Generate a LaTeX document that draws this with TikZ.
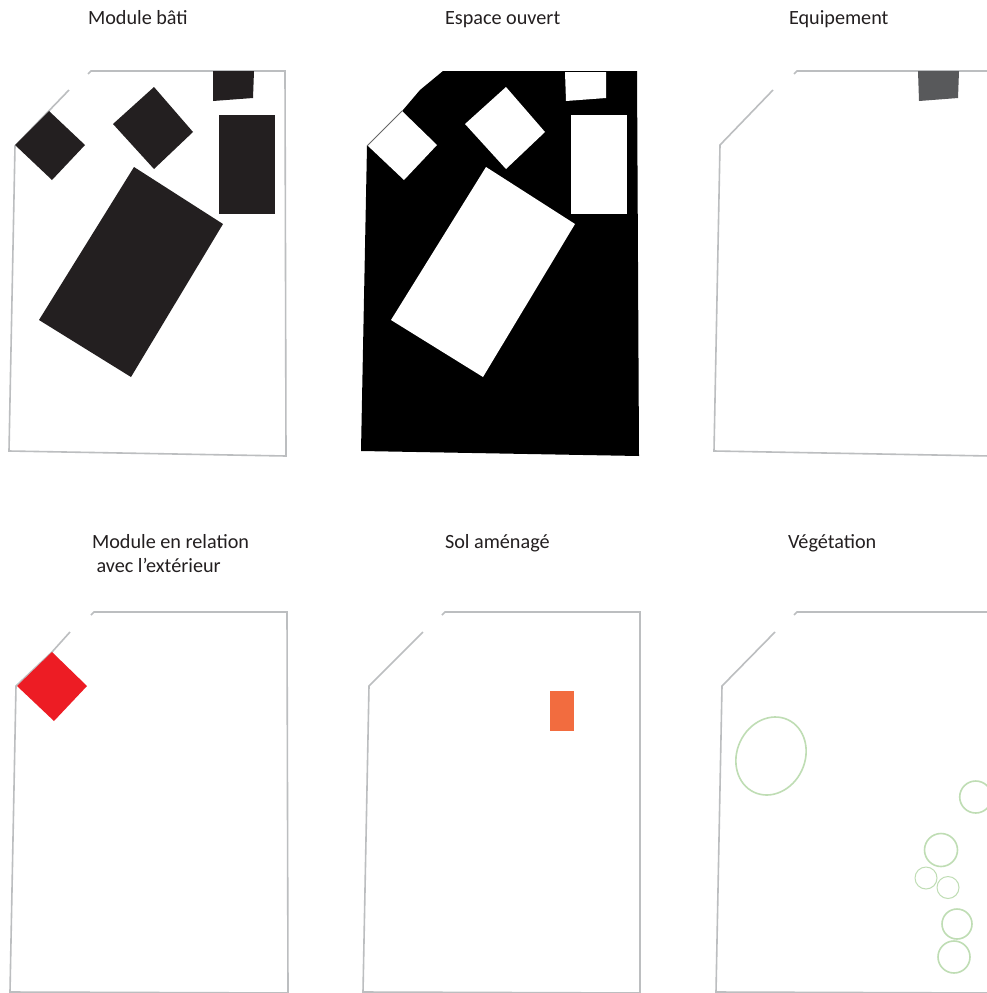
\documentclass[tikz,border=0pt]{standalone}
\usepackage{fontspec}
\setmainfont{Carlito}
\definecolor{inkblack}{HTML}{231F20}
\definecolor{wallgrey}{HTML}{BCBEC0}
\definecolor{equipgrey}{HTML}{58595B}
\definecolor{modred}{HTML}{ED1C24}
\definecolor{solorange}{HTML}{F26C3F}
\definecolor{treegreen}{HTML}{BFDDB4}
\tikzset{
  wall/.style={draw=wallgrey,line width=1.6pt,line join=miter},
  block/.style={fill=inkblack},
  hole/.style={fill=white},
  tree/.style={draw=treegreen,line width=1.6pt},
  lbl/.style={anchor=base west,inner sep=0pt,outer sep=0pt,text=inkblack,font=\fontsize{20.2}{24}\selectfont}
}
\begin{document}
\begin{tikzpicture}[x=1pt,y=-1pt]
\useasboundingbox (0,0) rectangle (987,993);
\clip (0,0) rectangle (987,993);
\fill[white] (0,0) rectangle (987,993);
% labels
\node[lbl] (t1) at (88,24) {Module bâti};
\node[lbl] (t2) at (445,24) {Espace ouvert};
\node[lbl] (t3) at (789,24) {Equipement};
\node[lbl] (t4a) at (92,548) {Module en relation};
\node[lbl] (t4b) at (96.5,572) {avec l’extérieur};
\node[lbl] (t5) at (445,548) {Sol aménagé};
\node[lbl] (t6) at (788,548) {Végétation};
% panel 1
\draw[wall] (69,90) -- (15,146) -- (9,451) -- (286,456) -- (285,71) -- (91,71) -- (88,74);
\fill[block] (49,111) -- (85,145) -- (52,180) -- (15,145) -- cycle;
\fill[block] (154,87) -- (193,132) -- (154,169) -- (113,124) -- cycle;
\fill[block] (213,71) -- (254,71) -- (253,98) -- (213,101) -- cycle;
\fill[block] (219,115) -- (275,115) -- (275,214) -- (219,214) -- cycle;
\fill[block] (134,167) -- (223,224) -- (131,377) -- (39,320) -- cycle;
% panel 2
\fill[black] (443,71) -- (637,71) -- (639,456) -- (361,451) -- (367,146) -- (403,110) -- (420,90) -- cycle;
\fill[hole] (402,111) -- (437,145) -- (404,180) -- (367,145) -- cycle;
\fill[hole] (506,87) -- (545,132) -- (506,169) -- (465,124) -- cycle;
\fill[hole] (565,72) -- (606,72) -- (606,98) -- (566,101) -- cycle;
\fill[hole] (571,115) -- (627,115) -- (627,214) -- (571,214) -- cycle;
\fill[hole] (486,167) -- (575,224) -- (483,377) -- (391,320) -- cycle;
\draw[draw=black!60,line width=.9pt] (367,146) -- (402,111);
% panel 3
\draw[wall] (773,90) -- (720,145) -- (714,451) -- (990,456);
\draw[wall] (794,74) -- (797,71) -- (990,71);
\fill[equipgrey] (918,71) -- (959,71) -- (958,98) -- (919,101) -- cycle;
% panel 4
\draw[wall] (70,632) -- (52,652) -- (16,686) -- (10,992) -- (288,993) -- (287,612) -- (94,612) -- (91,615);
\fill[modred] (52,652) -- (87,686) -- (54,721) -- (17,686) -- cycle;
% panel 5
\draw[wall] (423,632) -- (369,686) -- (363,992) -- (640,993) -- (640,612) -- (445,612) -- (442,615);
\fill[solorange] (550,691) rectangle (574,731);
% panel 6
\draw[wall] (775,632) -- (722,686) -- (716,992) -- (990,993);
\draw[wall] (794,615) -- (797,612) -- (990,612);
\draw[tree,rotate around={-25:(771,756)}] (771,756) circle [x radius=34,y radius=40];
\draw[tree] (975.7,797) circle [radius=16];
\draw[tree] (941,850) circle [radius=16.5];
\draw[tree,line width=1pt] (926,878) circle [radius=11];
\draw[tree,line width=1pt] (948,887.5) circle [radius=11];
\draw[tree] (957,924) circle [radius=15];
\draw[tree] (954,957) circle [radius=16];
\end{tikzpicture}
\end{document}
